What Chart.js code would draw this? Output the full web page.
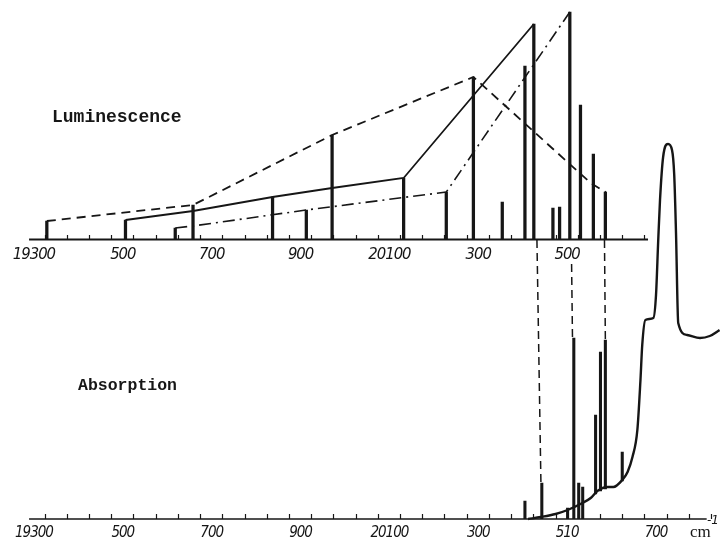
<!DOCTYPE html>
<html>
<head>
    <meta charset="utf-8" />
    <title>Luminescence / Absorption</title>
    <style>
        body { margin: 0; background: #fff; }
        #wrap { width: 720px; height: 544px; }
    </style>
</head>
<body>
    <div id="wrap"><canvas id="chartCanvas"></canvas></div>

<script src="https://cdn.jsdelivr.net/npm/chart.js@4.4.0/dist/chart.umd.min.js"></script>
<script>
    // axis labels (cm-1)
    var topTickValues = [19300, 19500, 19700, 19900, 20100, 20300, 20500];
    var topTickLabels = ['19300', '500', '700', '900', '20100', '300', '500'];
    var bottomTickValues = [19300, 19500, 19700, 19900, 20100, 20300, 20500, 20700];
    var bottomTickLabels = ['19300', '500', '700', '900', '20100', '300', '510', '700'];

    // luminescence lines: wavenumber / height
    var lumX = [19329, 19506, 19618, 19658, 19837, 19913, 19971, 20132, 20228, 20289, 20354, 20405, 20425, 20468, 20483, 20506, 20530, 20559, 20586];
    var lumY = [18.5, 19.5, 11.5, 34.5, 42.5, 29.5, 104.5, 61.5, 47.5, 162.5, 37.5, 173.5, 215.5, 31.5, 32.5, 227.5, 134.5, 85.5, 47.5];

    // envelopes joining the line tops
    var dashedX = [19329, 19658, 19971, 20289, 20553, 20586, 20586];
    var dashedY = [18.5, 34.5, 104.5, 162.5, 56.5, 47.5, 0];
    var solidX = [19506, 19658, 19837, 19971, 20132, 20425];
    var solidY = [19.5, 28.5, 42.5, 51.5, 61.5, 215.5];
    var dashDotX = [19618, 19658, 19913, 20228, 20506];
    var dashDotY = [11.5, 13.5, 29.5, 47.5, 227.5];

    // absorption curve
    var absX = [20412, 20441, 20474, 20501, 20530, 20553, 20568, 20591, 20604, 20624, 20636, 20647, 20658, 20665, 20669, 20676, 20694, 20700, 20705, 20709, 20716, 20727, 20736, 20741, 20745, 20750, 20770, 20799, 20821, 20843];
    var absY = [0, 2, 5, 9, 15, 21, 28, 32, 32, 39, 47, 62, 89, 139, 174, 199, 201, 224, 279, 319, 362, 375, 369, 344, 286, 196, 184, 181, 183, 189];

    // absorption lines (from base to top)
    var absLineX = [20405, 20443, 20501, 20515, 20526, 20535, 20564, 20575, 20586, 20624];
    var absLineBase = [0, 0, 0, 0, 0, 0, 25, 28, 30, 38];
    var absLineTop = [18, 36, 11, 181, 36, 32, 104, 167, 179, 67];

    // dashed connectors between the two spectra
    var linkTopX = [20432, 20510, 20584];
    var linkTopY = [279, 255, 279];
    var linkBotX = [20441, 20512, 20586];
    var linkBotY = [36, 181, 179];

    // axis line extents
    var lumAxisX = [19289, 20682];
    var absAxisX = [19289, 20814];

    var INK = '#161616';
    var XMIN = 19278, XMAX = 20844;

    function pts(xs, ys) {
        return xs.map(function (v, i) { return { x: v, y: ys[i] }; });
    }

    function stepTicks(from, to) {
        var out = [];
        for (var v = from; v <= to; v += 50) out.push({ value: v });
        return out;
    }

    var tickFamily = "'DejaVu Sans Condensed', 'DejaVu Sans', sans-serif";

    var datasets = [];

    // axis lines
    datasets.push({ type: 'line', xAxisID: 'x2', yAxisID: 'y', data: pts(lumAxisX, [0, 0]), borderColor: INK, borderWidth: 2, pointRadius: 0 });
    datasets.push({ type: 'line', xAxisID: 'x', yAxisID: 'ya', data: pts(absAxisX, [0, 0]), borderColor: INK, borderWidth: 1.6, pointRadius: 0, clip: false });

    // luminescence lines
    datasets.push({
        type: 'bar', xAxisID: 'x2', yAxisID: 'y', data: pts(lumX, lumY),
        backgroundColor: INK, barThickness: 2.6, grouped: false
    });

    datasets.push({ type: 'line', xAxisID: 'x2', yAxisID: 'y', data: pts(dashedX, dashedY), borderColor: INK, borderWidth: 1.8, borderDash: [9, 6], pointRadius: 0, tension: 0 });
    datasets.push({ type: 'line', xAxisID: 'x2', yAxisID: 'y', data: pts(solidX, solidY), borderColor: INK, borderWidth: 1.8, pointRadius: 0, tension: 0 });
    datasets.push({ type: 'line', xAxisID: 'x2', yAxisID: 'y', data: pts(dashDotX, dashDotY), borderColor: INK, borderWidth: 1.6, borderDash: [12, 5, 2, 5], pointRadius: 0, tension: 0 });

    // connectors
    for (var k = 0; k < linkTopX.length; k++) {
        datasets.push({
            type: 'line', xAxisID: 'x', yAxisID: 'ya',
            data: [{ x: linkTopX[k], y: linkTopY[k] }, { x: linkBotX[k], y: linkBotY[k] }],
            borderColor: INK, borderWidth: 1.5, borderDash: [8, 5], pointRadius: 0
        });
    }

    // absorption
    datasets.push({
        type: 'bar', xAxisID: 'x', yAxisID: 'ya',
        data: absLineX.map(function (v, i) { return { x: v, y: [absLineBase[i], absLineTop[i]] }; }),
        backgroundColor: INK, barThickness: 2.4, grouped: false
    });
    datasets.push({
        type: 'line', xAxisID: 'x', yAxisID: 'ya', data: pts(absX, absY),
        borderColor: INK, borderWidth: 2.4, pointRadius: 0, cubicInterpolationMode: 'monotone', clip: false
    });

    // tighter tick lettering, then panel captions
    var textPlugin = {
        id: 'panelText',
        beforeDraw: function (chart) {
            chart.ctx.letterSpacing = '-1px';
        },
        afterDraw: function (chart) {
            var c = chart.ctx;
            c.letterSpacing = '0px';
            c.save();
            c.fillStyle = INK;
            c.textBaseline = 'alphabetic';
            c.textAlign = 'left';
            c.font = "bold 18px 'Liberation Mono', monospace";
            c.fillText('Luminescence', 52, 122);
            c.font = "bold 16.5px 'Liberation Mono', monospace";
            c.fillText('Absorption', 78, 390);
            c.font = "17px 'Liberation Serif', serif";
            c.fillText('cm', 690, 537);
            c.font = "italic 12px 'DejaVu Sans', sans-serif";
            c.fillText('-1', 707, 524);
            c.restore();
        }
    };

    var chart1 = new Chart(document.getElementById('chartCanvas'), {
        type: 'scatter',
        data: { datasets: datasets },
        plugins: [textPlugin],
        options: {
            responsive: true,
            maintainAspectRatio: false,
            animation: false,
            layout: { padding: { left: 20, right: 0, top: 0, bottom: 0 } },
            plugins: { legend: { display: false }, tooltip: { enabled: false } },
            scales: {
                x: {
                    type: 'linear', position: 'bottom', min: XMIN, max: XMAX, offset: false,
                    afterBuildTicks: function (s) { s.ticks = stepTicks(19300, 20800); },
                    afterFit: function (s) { s.height = 25; },
                    grid: { display: true, drawOnChartArea: false, drawTicks: true, tickLength: -5, tickColor: INK, tickWidth: 1.2 },
                    border: { display: false },
                    ticks: {
                        autoSkip: false, maxRotation: 0, padding: 10, color: INK,
                        font: { family: tickFamily, style: 'italic', size: 15 },
                        callback: function (v) { var i = bottomTickValues.indexOf(v); return i >= 0 ? bottomTickLabels[i] : ''; }
                    }
                },
                x2: {
                    type: 'linear', axis: 'x', position: { y: 0 }, min: XMIN, max: XMAX, offset: false,
                    afterBuildTicks: function (s) { s.ticks = stepTicks(19300, 20650); },
                    grid: { display: true, drawOnChartArea: false, drawTicks: true, tickLength: -5, tickColor: INK, tickWidth: 1.2 },
                    border: { display: false },
                    ticks: {
                        autoSkip: false, maxRotation: 0, padding: 10, color: INK,
                        font: { family: tickFamily, style: 'italic', size: 16.5 },
                        callback: function (v) { var i = topTickValues.indexOf(v); return i >= 0 ? topTickLabels[i] : ''; }
                    }
                },
                y: { type: 'linear', min: -279.5, max: 239.5, display: false },
                ya: { type: 'linear', min: 0, max: 519, display: false }
            }
        }
    });
</script>
</body>
</html>
